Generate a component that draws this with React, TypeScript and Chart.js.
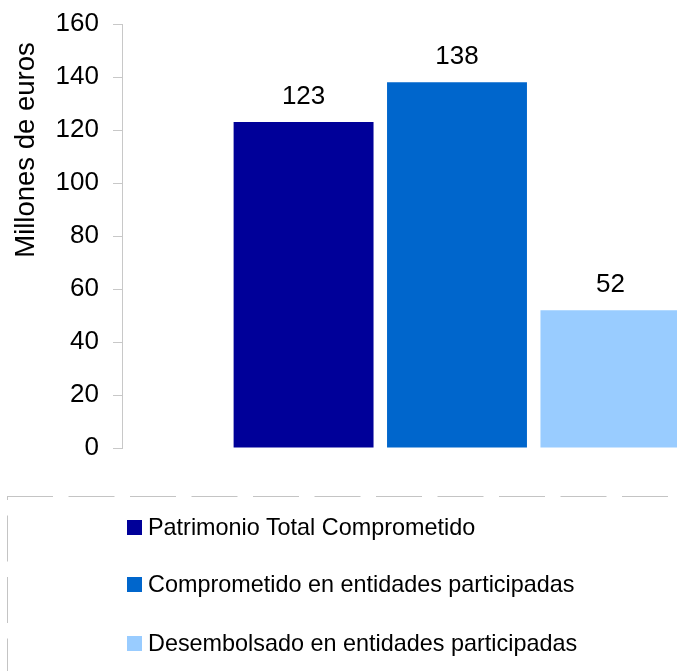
import { useEffect, useRef } from "react";
import { Chart, registerables } from "chart.js";

Chart.register(...registerables);

const categories = [""];
const seriesNames = [
  "Patrimonio Total Comprometido",
  "Comprometido en entidades participadas",
  "Desembolsado en entidades participadas",
];
const seriesValues = [123, 138, 52];
const seriesColors = ["#000099", "#0066CC", "#99CCFF"];
const yMin = 0;
const yMax = 160;
const yStep = 20;
const axisTitle = "Millones de euros";

const FONT = "Arial, 'Liberation Sans', sans-serif";

const valueLabelPlugin = {
  id: "valueLabels",
  afterDatasetsDraw(chart: any) {
    const ctx = chart.ctx;
    ctx.save();
    ctx.font = `26px ${FONT}`;
    ctx.fillStyle = "#000000";
    ctx.textAlign = "center";
    ctx.textBaseline = "alphabetic";
    chart.data.datasets.forEach((ds: any, i: number) => {
      const meta = chart.getDatasetMeta(i);
      meta.data.forEach((el: any, j: number) => {
        ctx.fillText(String(ds.data[j]), el.x, el.y - 18);
      });
    });
    ctx.restore();
  },
};

const axisTitlePlugin = {
  id: "axisTitleLeft",
  afterDraw(chart: any) {
    const ctx = chart.ctx;
    ctx.save();
    ctx.font = `27.5px ${FONT}`;
    ctx.fillStyle = "#000000";
    ctx.textAlign = "center";
    ctx.textBaseline = "alphabetic";
    ctx.translate(34, 150);
    ctx.rotate(-Math.PI / 2);
    ctx.fillText(axisTitle, 0, 0);
    ctx.restore();
  },
};

export default function App() {
  const ref = useRef<HTMLCanvasElement | null>(null);

  useEffect(() => {
    if (!ref.current) return;
    const chart = new Chart(ref.current, {
      type: "bar",
      data: {
        labels: categories,
        datasets: seriesNames.map((name, i) => ({
          label: name,
          data: [seriesValues[i]],
          backgroundColor: seriesColors[i],
          borderWidth: 0,
          categoryPercentage: 0.687,
          barPercentage: 0.912,
        })),
      },
      options: {
        animation: false,
        responsive: false,
        maintainAspectRatio: false,
        layout: { padding: { top: 24, right: 8, bottom: 12, left: 0 } },
        plugins: {
          legend: { display: false },
          tooltip: { enabled: false },
          title: { display: false },
        },
        scales: {
          x: { display: false },
          y: {
            min: yMin,
            max: yMax,
            ticks: {
              stepSize: yStep,
              color: "#000000",
              font: { family: FONT, size: 26 },
              padding: 14,
            },
            grid: {
              drawOnChartArea: false,
              drawTicks: true,
              tickLength: 9,
              color: "#c8c8c8",
            },
            border: { display: true, color: "#c8c8c8", width: 1 },
            afterFit(scale: any) {
              scale.width = 122;
              scale.paddingTop = 0;
              scale.paddingBottom = 0;
            },
          },
        },
      },
      plugins: [valueLabelPlugin, axisTitlePlugin],
    });
    return () => chart.destroy();
  }, []);

  const legendTops = [520, 577, 636];

  return (
    <div
      style={{
        position: "absolute",
        left: 0,
        top: 0,
        width: 677,
        height: 671,
        overflow: "hidden",
        background: "#ffffff",
      }}
    >
      <canvas
        ref={ref}
        width={800}
        height={460}
        style={{ position: "absolute", left: 0, top: 0, width: 800, height: 460 }}
      />
      <svg
        width={677}
        height={671}
        style={{ position: "absolute", left: 0, top: 0, pointerEvents: "none" }}
      >
        <line x1={7} y1={496.5} x2={677} y2={496.5} stroke="#c4c4c4" strokeWidth={1} strokeDasharray="46 15.5" />
        <line x1={7.5} y1={496} x2={7.5} y2={671} stroke="#c4c4c4" strokeWidth={1} strokeDasharray="46 15.5" strokeDashoffset={42} />
      </svg>
      {seriesNames.map((name, i) => (
        <div
          key={name}
          style={{
            position: "absolute",
            left: 127,
            top: legendTops[i],
            height: 15,
            display: "flex",
            alignItems: "center",
            whiteSpace: "nowrap",
            fontFamily: FONT,
            fontSize: 23.4,
            color: "#000000",
          }}
        >
          <span style={{ display: "inline-block", width: 15, height: 15, background: seriesColors[i], marginRight: 6 }} />
          <span style={{ lineHeight: "23px" }}>{name}</span>
        </div>
      ))}
    </div>
  );
}
